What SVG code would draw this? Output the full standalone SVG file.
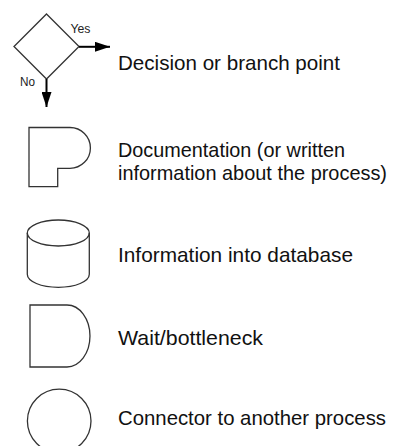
<svg xmlns="http://www.w3.org/2000/svg" width="398" height="446" viewBox="0 0 398 446">
<defs>
<style>
.shape{fill:none;stroke:#333;stroke-width:1.3;}
.label{font-family:"Liberation Sans",Arial,sans-serif;font-size:21px;fill:#111;}
.small{font-family:"Liberation Sans",Arial,sans-serif;font-size:12px;fill:#222;}
.conn{stroke:#000;stroke-width:2;fill:none;}
</style>
<marker id="arrow" viewBox="0 0 15 10" refX="15" refY="5" markerWidth="15" markerHeight="10" markerUnits="userSpaceOnUse" orient="auto">
<path d="M0,0 L15,5 L0,10 Z" fill="#000"/>
</marker>
</defs>
<rect width="398" height="446" fill="#fff"/>
<g id="decision">
<polygon class="shape" points="46.5,14 79,46.5 46.5,79 14,46.5" stroke="#111"/>
<text class="small" x="70.5" y="32.5" textLength="20" lengthAdjust="spacingAndGlyphs">Yes</text>
<text class="small" x="20" y="86" textLength="15" lengthAdjust="spacingAndGlyphs">No</text>
<text class="label" x="118" y="70" textLength="222" lengthAdjust="spacingAndGlyphs">Decision or branch point</text>
</g>
<g id="connectors">
<line class="conn" x1="79" y1="46.8" x2="110" y2="46.8" marker-end="url(#arrow)"/>
<line class="conn" x1="46.5" y1="79" x2="46.5" y2="107" marker-end="url(#arrow)"/>
</g>
<g id="documentation">
<path class="shape" d="M29,127.5 H70 A20.4,20.4 0 0 1 70,168.3 H57.7 V186.7 H29 Z"/>
<text class="label" x="118" y="157" textLength="227" lengthAdjust="spacingAndGlyphs">Documentation (or written</text>
<text class="label" x="118" y="180" textLength="269" lengthAdjust="spacingAndGlyphs">information about the process)</text>
</g>
<g id="database">
<ellipse class="shape" cx="58.3" cy="233" rx="31" ry="13"/>
<path class="shape" d="M27.3,233 V274.3 A31,13 0 0 0 89.3,274.3 V233"/>
<text class="label" x="118" y="261.5" textLength="235" lengthAdjust="spacingAndGlyphs">Information into database</text>
</g>
<g id="wait">
<path class="shape" d="M30,305 H67 A23,31 0 0 1 67,367 H30 Z"/>
<text class="label" x="118" y="345" textLength="145" lengthAdjust="spacingAndGlyphs">Wait/bottleneck</text>
</g>
<g id="connector">
<circle class="shape" cx="59.2" cy="421" r="31.8" stroke="#111"/>
<text class="label" x="118" y="425" textLength="268" lengthAdjust="spacingAndGlyphs">Connector to another process</text>
</g>
</svg>
